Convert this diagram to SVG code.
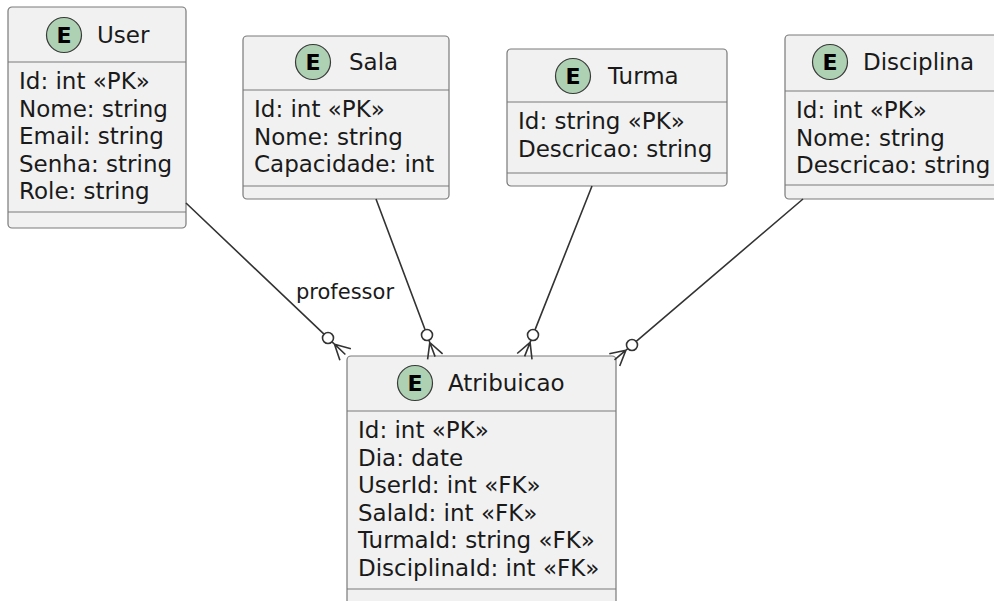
<svg xmlns="http://www.w3.org/2000/svg" width="994" height="601" viewBox="0 0 994 601">
<style>
.box{fill:#F1F1F1;stroke:#7a7a7a;stroke-width:1.2}
.sep{stroke:#7a7a7a;stroke-width:1.2}
.spot{fill:#ADD1B2;stroke:#3a3a3a;stroke-width:1.2}
.t{font-family:"DejaVu Sans",sans-serif;font-size:23px;fill:#1a1a1a}
.e{font-family:"DejaVu Sans",sans-serif;font-weight:bold;font-size:22px;text-anchor:middle;fill:#000}
.lbl{font-family:"DejaVu Sans",sans-serif;font-size:21px;fill:#1a1a1a}
.link{stroke:#333;stroke-width:1.6;fill:none}
.ring{stroke:#333;stroke-width:1.6;fill:#fff}
</style>
<rect width="994" height="601" fill="#fff"/>
<g id="User">
<rect class="box" x="8" y="7" width="178" height="221" rx="4"/>
<circle class="spot" cx="64" cy="35" r="17.5"/><text class="e" x="64" y="43">E</text>
<text class="t" x="97" y="43">User</text>
<line class="sep" x1="8" y1="62" x2="186" y2="62"/>
<text class="t" x="19" y="89">Id: int «PK»</text>
<text class="t" x="19" y="116.5">Nome: string</text>
<text class="t" x="19" y="144">Email: string</text>
<text class="t" x="19" y="171.5">Senha: string</text>
<text class="t" x="19" y="199">Role: string</text>
<line class="sep" x1="8" y1="212" x2="186" y2="212"/>
</g>
<g id="Sala">
<rect class="box" x="243" y="36" width="206" height="163" rx="4"/>
<circle class="spot" cx="313" cy="62" r="17.5"/><text class="e" x="313" y="70">E</text>
<text class="t" x="349" y="70">Sala</text>
<line class="sep" x1="243" y1="90" x2="449" y2="90"/>
<text class="t" x="254" y="117">Id: int «PK»</text>
<text class="t" x="254" y="144.5">Nome: string</text>
<text class="t" x="254" y="172">Capacidade: int</text>
<line class="sep" x1="243" y1="186" x2="449" y2="186"/>
</g>
<g id="Turma">
<rect class="box" x="507" y="49" width="220" height="137" rx="4"/>
<circle class="spot" cx="573" cy="76" r="17.5"/><text class="e" x="573" y="84">E</text>
<text class="t" x="608" y="84">Turma</text>
<line class="sep" x1="507" y1="102" x2="727" y2="102"/>
<text class="t" x="518" y="129">Id: string «PK»</text>
<text class="t" x="518" y="157">Descricao: string</text>
<line class="sep" x1="507" y1="173" x2="727" y2="173"/>
</g>
<g id="Disciplina">
<rect class="box" x="785" y="35" width="230" height="164" rx="4"/>
<circle class="spot" cx="830" cy="62" r="17.5"/><text class="e" x="830" y="70">E</text>
<text class="t" x="863" y="70">Disciplina</text>
<line class="sep" x1="785" y1="91" x2="1015" y2="91"/>
<text class="t" x="796" y="118">Id: int «PK»</text>
<text class="t" x="796" y="145.5">Nome: string</text>
<text class="t" x="796" y="173">Descricao: string</text>
<line class="sep" x1="785" y1="185" x2="1015" y2="185"/>
</g>
<g id="Atribuicao">
<rect class="box" x="347" y="356" width="269" height="250" rx="4"/>
<circle class="spot" cx="415" cy="383" r="17.5"/><text class="e" x="415" y="391">E</text>
<text class="t" x="448" y="391">Atribuicao</text>
<line class="sep" x1="347" y1="411" x2="616" y2="411"/>
<text class="t" x="358" y="438">Id: int «PK»</text>
<text class="t" x="358" y="465.5">Dia: date</text>
<text class="t" x="358" y="493">UserId: int «FK»</text>
<text class="t" x="358" y="520.5">SalaId: int «FK»</text>
<text class="t" x="358" y="548">TurmaId: string «FK»</text>
<text class="t" x="358" y="575.5">DisciplinaId: int «FK»</text>
<line class="sep" x1="347" y1="589" x2="616" y2="589"/>
</g>
<g id="connectors">
<path class="link" d="M186,203 L324,334.2 M332,341.8 L334.5,344.2 L339.9,360.3 M334.5,344.2 L345.4,354.5 M334.5,344.2 L350.9,348.7"/>
<circle class="ring" cx="328" cy="338" r="5.5"/>
<text class="lbl" x="296" y="299">professor</text>
<path class="link" d="M376,199 L425.1,329.8 M428.9,340.2 L429.8,342.5 L427.6,359.4 M429.8,342.5 L435.1,356.6 M429.8,342.5 L442.6,353.8"/>
<circle class="ring" cx="427" cy="335" r="5.5"/>
<path class="link" d="M592,186 L535,329.9 M531,340.1 L530.1,342.4 L532,359.3 M530.1,342.4 L524.6,356.4 M530.1,342.4 L517.2,353.5"/>
<circle class="ring" cx="533" cy="335" r="5.5"/>
<path class="link" d="M803,199 L636.2,341.4 M627.8,348.6 L625.9,350.2 L619.7,366 M625.9,350.2 L614.5,359.9 M625.9,350.2 L609.3,353.8"/>
<circle class="ring" cx="632" cy="345" r="5.5"/>
</g>
</svg>
